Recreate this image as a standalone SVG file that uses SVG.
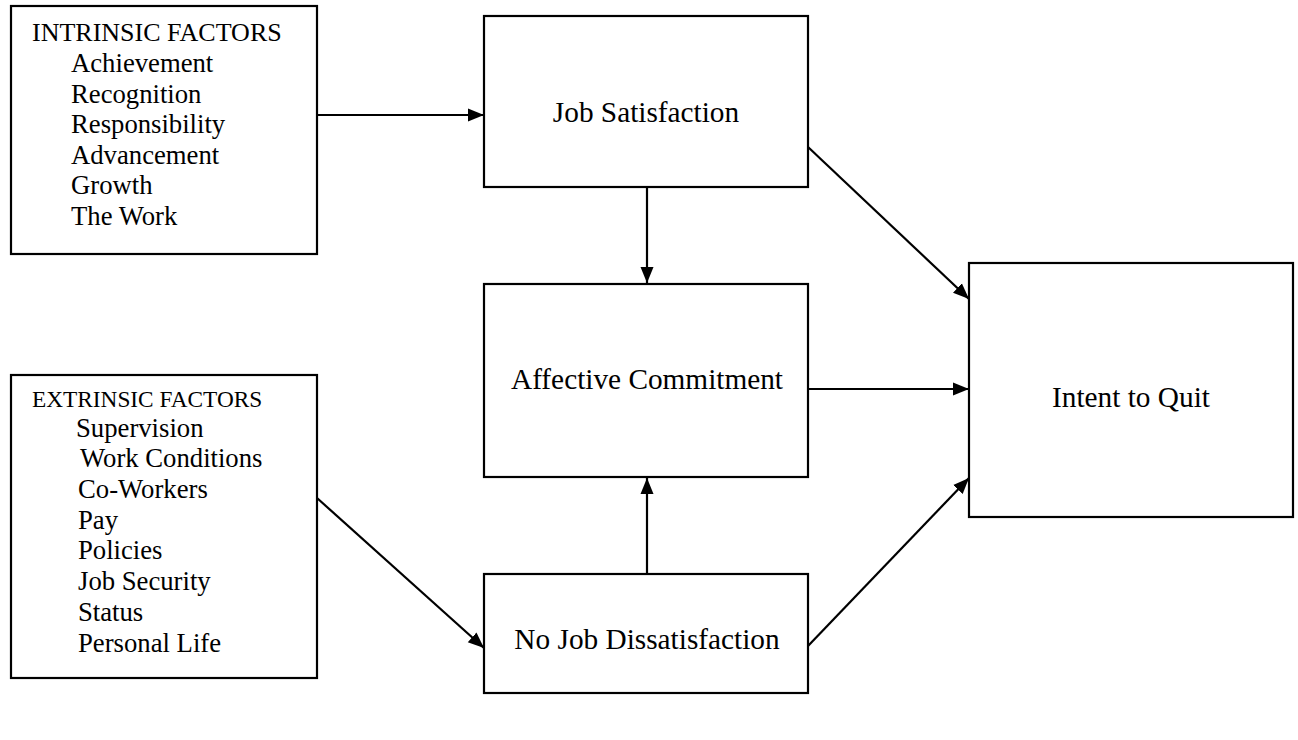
<svg xmlns="http://www.w3.org/2000/svg" width="1298" height="740" viewBox="0 0 1298 740">
  <style>
    .box { fill: #ffffff; stroke: #000000; stroke-width: 2.2; }
    .lbl { font-family: "Liberation Serif", "Times New Roman", serif; font-size: 29.3px; fill: #000000; text-anchor: middle; }
    .lst { font-family: "Liberation Serif", "Times New Roman", serif; font-size: 26.7px; fill: #000000; }
    .hdr1 { font-family: "Liberation Serif", "Times New Roman", serif; font-size: 26px; fill: #000000; }
    .hdr2 { font-family: "Liberation Serif", "Times New Roman", serif; font-size: 23.3px; fill: #000000; }
    .conn { stroke: #000000; stroke-width: 2.2; fill: none; marker-end: url(#arrow); }
  </style>
  <defs>
    <marker id="arrow" markerUnits="userSpaceOnUse" markerWidth="17" markerHeight="14" refX="16" refY="7" orient="auto">
      <path d="M0,0.5 L16,7 L0,13.5 Z" fill="#000000"/>
    </marker>
  </defs>
  <rect width="1298" height="740" fill="#ffffff"/>

  <g id="intrinsic">
    <rect class="box" x="11" y="6" width="306" height="248"/>
    <text class="hdr1" x="32" y="41">INTRINSIC FACTORS</text>
    <text class="lst" x="71" y="72">Achievement</text>
    <text class="lst" x="71" y="102.5">Recognition</text>
    <text class="lst" x="71" y="133">Responsibility</text>
    <text class="lst" x="71" y="163.5">Advancement</text>
    <text class="lst" x="71" y="194">Growth</text>
    <text class="lst" x="71" y="224.5">The Work</text>
  </g>

  <g id="extrinsic">
    <rect class="box" x="11" y="375" width="306" height="303"/>
    <text class="hdr2" x="32" y="407">EXTRINSIC FACTORS</text>
    <text class="lst" x="76" y="436.5">Supervision</text>
    <text class="lst" x="80" y="467">Work Conditions</text>
    <text class="lst" x="78" y="497.5">Co-Workers</text>
    <text class="lst" x="78" y="528.5">Pay</text>
    <text class="lst" x="78" y="559">Policies</text>
    <text class="lst" x="78" y="590">Job Security</text>
    <text class="lst" x="78" y="621">Status</text>
    <text class="lst" x="78" y="652">Personal Life</text>
  </g>

  <g id="job-satisfaction">
    <rect class="box" x="484" y="16" width="324" height="171"/>
    <text class="lbl" x="646" y="122">Job Satisfaction</text>
  </g>

  <g id="affective-commitment">
    <rect class="box" x="484" y="284" width="324" height="193"/>
    <text class="lbl" x="647" y="389">Affective Commitment</text>
  </g>

  <g id="no-job-dissatisfaction">
    <rect class="box" x="484" y="574" width="324" height="119"/>
    <text class="lbl" x="647" y="649">No Job Dissatisfaction</text>
  </g>

  <g id="intent-to-quit">
    <rect class="box" x="969" y="263" width="324" height="254"/>
    <text class="lbl" x="1131" y="407">Intent to Quit</text>
  </g>

  <g id="connectors">
    <line class="conn" x1="317" y1="115" x2="484" y2="115"/>
    <line class="conn" x1="647" y1="187" x2="647" y2="283"/>
    <line class="conn" x1="647" y1="574" x2="647" y2="478"/>
    <line class="conn" x1="317" y1="498" x2="484" y2="648"/>
    <line class="conn" x1="808" y1="147" x2="969" y2="299"/>
    <line class="conn" x1="808" y1="389" x2="969" y2="389"/>
    <line class="conn" x1="808" y1="646" x2="969" y2="478"/>
  </g>
</svg>
